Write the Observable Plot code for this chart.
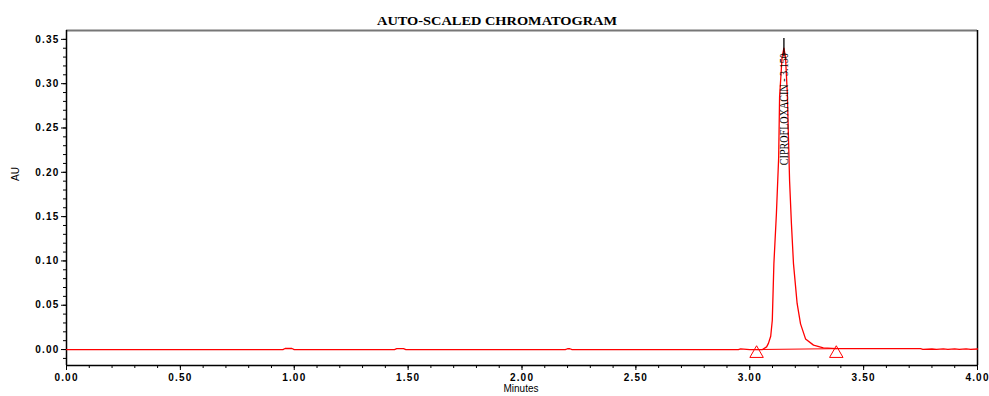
<!DOCTYPE html>
<html>
<head>
<meta charset="utf-8">
<script src="https://cdn.jsdelivr.net/npm/d3@7"></script>
<script src="https://cdn.jsdelivr.net/npm/@observablehq/plot@0.6"></script>
<style>
  html, body { margin: 0; padding: 0; background: #fff; }
  #chart svg { display: block; }
  .ticklab text { letter-spacing: 1.2px; }
</style>
</head>
<body>
<div id="chart"></div>
<script>
// Chromatogram trace (minutes, AU)
const times = [0, 0.95, 0.96, 0.99, 1.0, 1.44, 1.45, 1.48, 1.49, 2.19, 2.2, 2.21, 2.22, 2.9, 2.95, 2.96, 3.0, 3.056, 3.074, 3.082, 3.092, 3.099, 3.106, 3.117, 3.127, 3.131, 3.142, 3.150, 3.157, 3.165, 3.175, 3.183, 3.192, 3.208, 3.223, 3.245, 3.28, 3.323, 3.38, 3.5, 3.75, 3.76, 3.8, 3.82, 3.85, 3.87, 3.9, 3.92, 3.95, 3.97, 4.0];
const au    = [0, 0, 0.0012, 0.0012, 0, 0, 0.0010, 0.0010, 0, 0, 0.0009, 0.0009, 0, 0, 0, 0.0008, 0, 0.0, 0.003, 0.007, 0.015, 0.033, 0.097, 0.153, 0.217, 0.285, 0.330, 0.340, 0.330, 0.289, 0.190, 0.142, 0.097, 0.052, 0.029, 0.012, 0.005, 0.002, 0.001, 0.001, 0.001, 0.0003, 0.0006, 0.0002, 0.0007, 0.0002, 0.0008, 0.0002, 0.0007, 0.0003, 0.0006];
const trace = times.map((t, i) => ({t, v: au[i]}));

// Integration baseline markers
const markTimes = [3.03, 3.38];
const markAU = [0.0, 0.001];
const marks = markTimes.map((t, i) => ({t, v: markAU[i]}));

// Peak label
const peakName = "CIPROFLOXACIN - 3.150";
const peakTime = 3.150;

// Axis ticks
const xMajor = [0, 0.5, 1, 1.5, 2, 2.5, 3, 3.5, 4];
const xMinor = d3.range(0, 41).map(i => i / 10);
const yMajor = [0, 0.05, 0.10, 0.15, 0.20, 0.25, 0.30, 0.35];
const yMinor = d3.range(-1, 36).map(i => i / 100);

const title = "AUTO-SCALED CHROMATOGRAM";
const xLabel = "Minutes";
const yLabel = "AU";

const yMin = -0.018, yMax = 0.360;

const plot = Plot.plot({
  width: 989,
  height: 396,
  marginLeft: 66,
  marginRight: 12,
  marginTop: 30,
  marginBottom: 31,
  style: {fontFamily: "'Liberation Sans', Arial, sans-serif", fontSize: "10px", color: "#000", background: "#fff"},
  x: {domain: [0, 4]},
  y: {domain: [yMin, yMax]},
  marks: [
    // frame
    Plot.ruleY([yMax], {stroke: "#777", strokeWidth: 2}),
    Plot.ruleX([4], {stroke: "#000", strokeWidth: 1.5}),
    Plot.ruleX([0], {stroke: "#000", strokeWidth: 1.5}),
    Plot.ruleY([yMin], {stroke: "#000", strokeWidth: 1.5}),
    // axes
    Plot.axisX({ticks: xMinor, tickSize: 3, text: null, label: null, anchor: "bottom"}),
    Plot.axisX({ticks: xMajor, tickSize: 5, tickPadding: 3, tickFormat: ".2f", label: null, anchor: "bottom", className: "ticklab", fontWeight: "bold"}),
    Plot.axisY({ticks: yMinor, tickSize: 3, text: null, label: null, anchor: "left"}),
    Plot.axisY({ticks: yMajor, tickSize: 5, tickPadding: 2, tickFormat: ".2f", label: null, anchor: "left", className: "ticklab", fontWeight: "bold"}),
    // titles
    Plot.text([title], {frameAnchor: "top", dy: -14, dx: -25, fontFamily: "'Liberation Serif', serif", fontWeight: "900", fontSize: 12, className: "title"}),
    Plot.text([xLabel], {frameAnchor: "bottom", dy: 26, dx: -1, fontSize: 10}),
    Plot.text([yLabel], {frameAnchor: "left", dx: -51, dy: -17, rotate: -90, fontSize: 10}),
    // baseline & trace
    Plot.line(marks, {x: "t", y: "v", stroke: "red", strokeWidth: 1}),
    Plot.line(trace, {x: "t", y: "v", stroke: "red", strokeWidth: 1.3}),
    Plot.dot(marks, {x: "t", y: d => -0.0045, symbol: "triangle", r: 5, stroke: "red", fill: "none", strokeWidth: 1}),
    // peak marker + label
    Plot.ruleX([peakTime], {y1: 0.33, y2: 0.351, stroke: "#000", strokeWidth: 1.3}),
    Plot.text([peakName], {x: peakTime, y: 0.208, rotate: -90, textAnchor: "start", lineAnchor: "middle", fontFamily: "'Liberation Serif', serif", fontSize: 13, fill: "#000", className: "peaklab"})
  ]
});

document.getElementById("chart").appendChild(plot);
const pl = plot.querySelector(".peaklab text");
if (pl) { pl.setAttribute("textLength", "112"); pl.setAttribute("lengthAdjust", "spacingAndGlyphs"); }
const tl = plot.querySelector(".title text");
if (tl) { tl.setAttribute("textLength", "240"); tl.setAttribute("lengthAdjust", "spacingAndGlyphs"); }
</script>
</body>
</html>
